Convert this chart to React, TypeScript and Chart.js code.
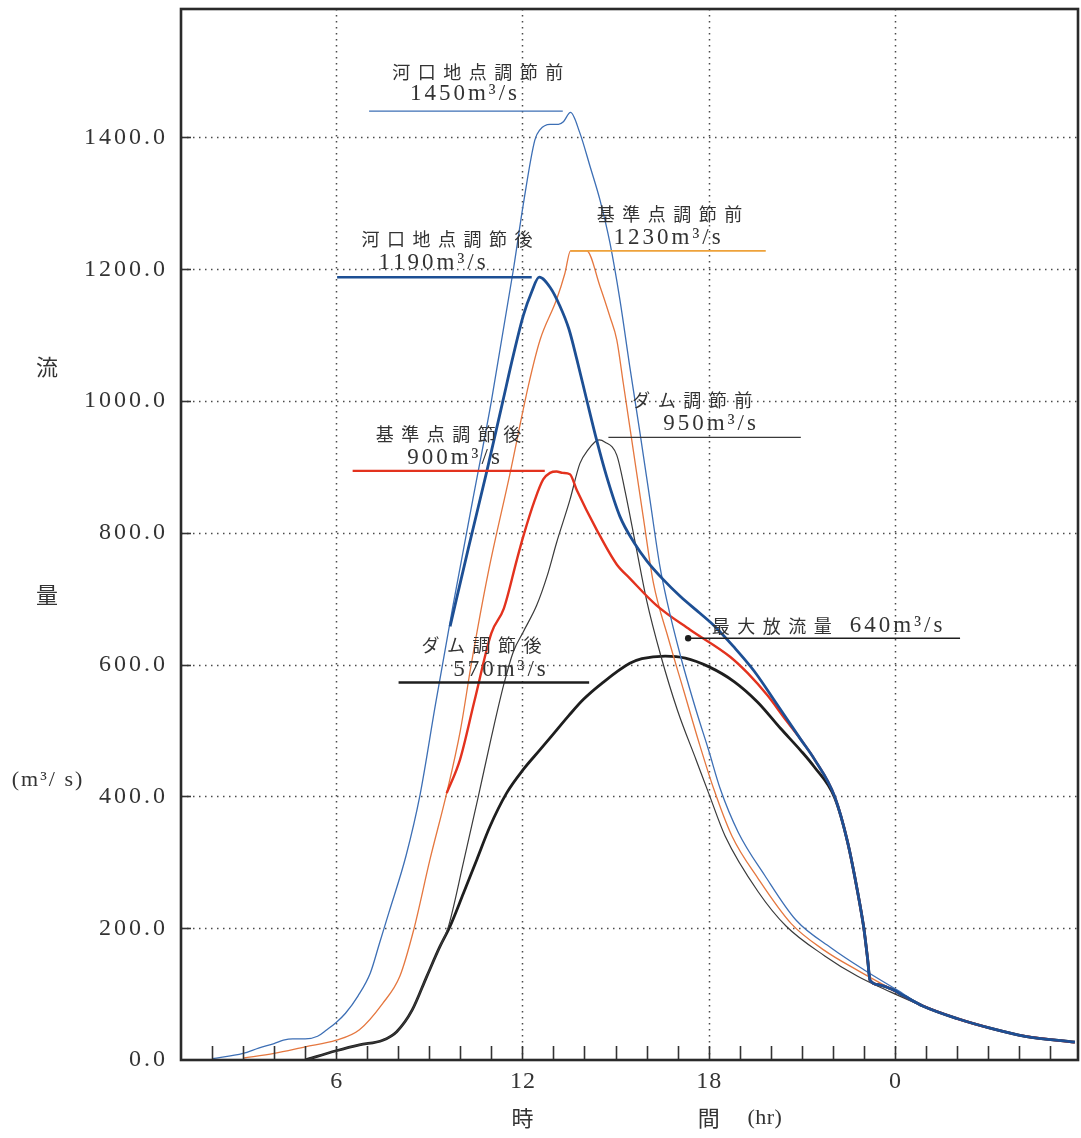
import React, { useEffect, useRef } from "react";
import { Chart, registerables } from "chart.js";

Chart.register(...registerables);

// ---------- axes ----------
const hourMin = 1;
const hourMax = 29.9;
const flowMin = 0;
const flowMax = 1595;
const flowTicks = [0, 200, 400, 600, 800, 1000, 1200, 1400];
const flowTickLabels = ["0.0", "200.0", "400.0", "600.0", "800.0", "1000.0", "1200.0", "1400.0"];
const hourMinorTicks = [2, 3, 4, 5, 6, 7, 8, 9, 10, 11, 12, 13, 14, 15, 16, 17, 18, 19, 20, 21, 22, 23, 24, 25, 26, 27, 28, 29];
const hourMajorTicks = [6, 12, 18, 24];
const hourMajorLabels = ["6", "12", "18", "0"];

// ---------- shared recession tail ----------
const tailHours = [24.9, 26.0, 27.1, 28.2, 29.8];
const tailFlow = [82, 63, 48, 36, 27];

// ---------- 河口地点調節前 ----------
const estuaryBeforeHours = [2.0, 3.0, 3.5, 4.0, 4.3, 4.6, 5.0, 5.4, 5.7, 6.0, 6.3, 6.7, 7.1, 7.4, 7.7, 8.25, 8.7, 9.2, 9.75, 10.4, 11.0, 11.7, 12.05, 12.4, 12.57, 12.89, 13.16, 13.32, 13.55, 13.85, 14.18, 14.5, 14.82, 15.14, 15.46, 15.79, 16.11, 16.43, 16.65, 17.1, 17.6, 18.0, 18.37, 18.96, 19.81, 20.82, 21.95, 23.0, 24.08];
const estuaryBeforeFlow = [2, 10, 18, 25, 30, 32, 32, 36, 46, 57, 71, 97, 132, 178, 224, 310, 402, 540, 686, 850, 1000, 1197, 1305, 1396, 1412, 1420, 1420, 1424, 1438, 1407, 1356, 1305, 1240, 1154, 1052, 951, 850, 749, 698, 612, 530, 470, 412, 345, 280, 212, 170, 137, 106];

// ---------- 河口地点調節後 ----------
const estuaryAfterHours = [9.67, 10.25, 10.85, 11.37, 11.71, 12.03, 12.3, 12.54, 12.9, 13.2, 13.5, 13.75, 14.07, 14.39, 14.71, 15.14, 15.6, 16.0, 16.54, 17.1, 17.72, 18.2, 18.79, 19.47, 20.2, 20.96, 21.4, 22.06, 22.48, 22.8, 23.0, 23.12, 23.2, 23.5, 23.87, 24.3];
const estuaryAfterFlow = [658, 775, 893, 1000, 1070, 1130, 1166, 1188, 1172, 1145, 1109, 1064, 1002, 941, 886, 825, 785, 758, 729, 703, 678, 658, 628, 590, 540, 487, 457, 400, 330, 255, 200, 154, 121, 114, 108, 97];

// ---------- 基準点調節前 ----------
const baseBeforeHours = [3.0, 4.0, 5.0, 6.0, 6.75, 7.5, 8.05, 8.5, 9.02, 9.56, 10.0, 10.35, 10.9, 11.6, 12.2, 12.57, 13.1, 13.37, 13.55, 14.07, 14.5, 14.82, 15.04, 15.25, 15.57, 15.89, 16.22, 16.7, 17.2, 17.7, 18.16, 18.75, 19.6, 20.66, 21.74, 22.8, 23.87];
const baseBeforeFlow = [3, 10, 20, 30, 46, 86, 127, 198, 304, 405, 500, 600, 740, 890, 1025, 1093, 1154, 1194, 1228, 1228, 1174, 1128, 1093, 1027, 926, 825, 724, 640, 560, 480, 412, 340, 275, 207, 166, 136, 108];

// ---------- 基準点調節後 ----------
const baseAfterHours = [9.56, 9.99, 10.45, 11.0, 11.4, 11.82, 12.03, 12.4, 12.67, 12.89, 13.1, 13.3, 13.53, 13.75, 14.39, 15.04, 15.46, 16.32, 17.4, 18.69, 19.26, 19.9, 20.5, 20.96, 21.4, 22.06, 22.48, 22.8, 23.0, 23.12, 23.2, 23.5, 23.87, 24.3];
const baseAfterFlow = [405, 456, 544, 648, 685, 759, 795, 850, 881, 891, 893, 891, 889, 865, 805, 752, 731, 690, 653, 612, 587, 553, 515, 487, 457, 400, 330, 255, 200, 154, 121, 114, 108, 97];

// ---------- ダム調節前 ----------
const damBeforeHours = [5.0, 6.0, 6.75, 7.5, 7.95, 8.45, 8.92, 9.34, 9.6, 10.1, 10.58, 11.0, 11.4, 11.71, 12.03, 12.46, 12.8, 13.1, 13.53, 13.85, 14.1, 14.47, 14.65, 15.04, 15.3, 15.68, 16.0, 16.45, 17.0, 17.6, 18.0, 18.53, 19.6, 20.5, 21.74, 22.8, 23.87];
const damBeforeFlow = [0, 14, 23, 30, 43, 76, 127, 172, 200, 300, 400, 490, 570, 620, 650, 690, 735, 785, 850, 905, 925, 941, 938, 918, 865, 774, 698, 615, 530, 455, 405, 340, 255, 203, 158, 127, 103];

// ---------- ダム調節後 ----------
const damAfterHours = [5.0, 6.0, 6.75, 7.5, 7.95, 8.45, 8.92, 9.34, 9.67, 10.1, 10.53, 10.95, 11.49, 12.03, 12.57, 13.0, 13.5, 13.96, 14.57, 15.46, 15.85, 16.6, 17.25, 18.0, 18.83, 19.58, 20.32, 20.96, 21.4, 22.06, 22.48, 22.8, 23.0, 23.12, 23.2, 23.5, 23.87, 24.3];
const damAfterFlow = [0, 14, 23, 30, 43, 76, 127, 172, 203, 253, 304, 354, 405, 441, 471, 495, 523, 547, 572, 602, 609, 613, 610, 597, 574, 543, 503, 470, 445, 398, 330, 255, 200, 154, 121, 114, 108, 97];

// ---------- annotations ----------
const annoNames = ["河口地点調節前", "河口地点調節後", "基準点調節前", "基準点調節後", "ダム調節前", "ダム調節後"];
const annoValueLabels = ["1450m³/s", "1190m³/s", "1230m³/s", "900m³/s", "950m³/s", "570m³/s"];
const annoNameHour = [10.56, 9.57, 16.74, 9.62, 17.47, 10.68];
const annoNameFlow = [1499, 1246, 1283, 950, 1001, 630];
const annoValueHour = [10.1, 9.09, 16.66, 9.78, 18.03, 11.26];
const annoValueFlow = [1466, 1209, 1248, 913, 965, 592];
const leaderFlow = [1440, 1188, 1228, 894, 945, 573];
const leaderStartHour = [7.06, 6.03, 13.55, 6.53, 14.77, 8.01];
const leaderEndHour = [13.3, 12.3, 19.84, 12.72, 20.97, 14.15];
const leaderColors = ["#3d6fb5", "#1d4f94", "#eea23a", "#e3321e", "#3a3a3a", "#1e1e1e"];
const leaderWidths = [1.3, 2.6, 1.6, 2.4, 1.3, 2.6];

const maxReleaseName = "最大放流量";
const maxReleaseLabel = "640m³/s";
const maxReleaseFlow = 640;
const maxReleaseDotHour = 17.34;
const maxReleaseEndHour = 26.1;
const maxReleaseNameHour = 20.03;
const maxReleaseLabelHour = 24.04;
const maxReleaseTextFlow = 659;

const NUM_FONT = '"Liberation Serif", "DejaVu Serif", serif';
const JP_FONT = '"Noto Sans CJK JP", "Noto Sans", sans-serif';
const TEXT_COLOR = "#333";

function drawSpaced(ctx: CanvasRenderingContext2D, text: string, x: number, y: number, spacing: number, align: string) {
  const chars = Array.from(text);
  const widths = chars.map((c) => ctx.measureText(c).width);
  const total = widths.reduce((s, w) => s + w, 0) + spacing * (chars.length - 1);
  let cx = align === "center" ? x - total / 2 : align === "right" ? x - total : x;
  ctx.textAlign = "left";
  chars.forEach((c, i) => {
    ctx.fillText(c, cx, y);
    cx += widths[i] + spacing;
  });
}

const decorPlugin = {
  id: "decor",
  beforeDatasetsDraw(chart: any) {
    const { ctx, chartArea: a, scales } = chart;
    const xs = scales.x;
    const ys = scales.y;
    ctx.save();
    ctx.strokeStyle = "#4a4a4a";
    ctx.lineWidth = 1.5;
    ctx.setLineDash([1.5, 4.5]);
    flowTicks.forEach((v) => {
      if (v === 0) return;
      const py = Math.round(ys.getPixelForValue(v)) + 0.5;
      ctx.beginPath();
      ctx.moveTo(a.left, py);
      ctx.lineTo(a.right, py);
      ctx.stroke();
    });
    hourMajorTicks.forEach((v) => {
      const px = Math.round(xs.getPixelForValue(v)) + 0.5;
      ctx.beginPath();
      ctx.moveTo(px, a.top);
      ctx.lineTo(px, a.bottom);
      ctx.stroke();
    });
    ctx.restore();
  },
  afterDatasetsDraw(chart: any) {
    const { ctx, chartArea: a, scales } = chart;
    const xs = scales.x;
    const ys = scales.y;
    ctx.save();
    ctx.setLineDash([]);

    // tick marks (inside the frame)
    ctx.strokeStyle = "#333";
    ctx.lineWidth = 1.6;
    hourMinorTicks.forEach((v) => {
      const px = Math.round(xs.getPixelForValue(v)) + 0.5;
      ctx.beginPath();
      ctx.moveTo(px, a.bottom);
      ctx.lineTo(px, a.bottom - 14);
      ctx.stroke();
    });
    flowTicks.forEach((v) => {
      if (v === 0) return;
      const py = Math.round(ys.getPixelForValue(v)) + 0.5;
      ctx.beginPath();
      ctx.moveTo(a.left, py);
      ctx.lineTo(a.left + 10, py);
      ctx.stroke();
    });

    // frame
    ctx.strokeStyle = "#2a2a2a";
    ctx.lineWidth = 2.6;
    ctx.strokeRect(a.left, a.top, a.right - a.left, a.bottom - a.top);

    // tick labels
    ctx.fillStyle = TEXT_COLOR;
    ctx.textBaseline = "middle";
    ctx.font = `24px ${NUM_FONT}`;
    flowTicks.forEach((v, i) => {
      drawSpaced(ctx, flowTickLabels[i], a.left - 16, ys.getPixelForValue(v), 3, "right");
    });
    hourMajorTicks.forEach((v, i) => {
      drawSpaced(ctx, hourMajorLabels[i], xs.getPixelForValue(v), a.bottom + 22, 1, "center");
    });

    // axis titles
    ctx.font = `22px ${JP_FONT}`;
    ctx.fillText("流", 36, 367);
    ctx.fillText("量", 36, 595);
    ctx.textAlign = "center";
    ctx.fillText("時", xs.getPixelForValue(12), a.bottom + 58);
    ctx.fillText("間", xs.getPixelForValue(18), a.bottom + 58);
    ctx.font = `22px ${NUM_FONT}`;
    drawSpaced(ctx, "(hr)", xs.getPixelForValue(18) + 56, a.bottom + 58, 0.5, "center");
    drawSpaced(ctx, "(m³/ s)", 47, 780, 2, "center");

    // leader lines
    annoNames.forEach((_, i) => {
      const py = ys.getPixelForValue(leaderFlow[i]);
      ctx.strokeStyle = leaderColors[i];
      ctx.lineWidth = leaderWidths[i];
      ctx.beginPath();
      ctx.moveTo(xs.getPixelForValue(leaderStartHour[i]), py);
      ctx.lineTo(xs.getPixelForValue(leaderEndHour[i]), py);
      ctx.stroke();
    });
    {
      const py = ys.getPixelForValue(maxReleaseFlow);
      const px0 = xs.getPixelForValue(maxReleaseDotHour);
      ctx.strokeStyle = "#1e1e1e";
      ctx.lineWidth = 1.4;
      ctx.beginPath();
      ctx.moveTo(px0, py);
      ctx.lineTo(xs.getPixelForValue(maxReleaseEndHour), py);
      ctx.stroke();
      ctx.fillStyle = "#1e1e1e";
      ctx.beginPath();
      ctx.arc(px0, py, 3.2, 0, Math.PI * 2);
      ctx.fill();
    }

    // annotation texts
    ctx.fillStyle = TEXT_COLOR;
    ctx.textBaseline = "middle";
    annoNames.forEach((name, i) => {
      ctx.font = `18px ${JP_FONT}`;
      drawSpaced(ctx, name, xs.getPixelForValue(annoNameHour[i]), ys.getPixelForValue(annoNameFlow[i]), 7.5, "center");
      ctx.font = `23px ${NUM_FONT}`;
      drawSpaced(ctx, annoValueLabels[i], xs.getPixelForValue(annoValueHour[i]), ys.getPixelForValue(annoValueFlow[i]), 3, "center");
    });
    ctx.font = `18px ${JP_FONT}`;
    drawSpaced(ctx, maxReleaseName, xs.getPixelForValue(maxReleaseNameHour), ys.getPixelForValue(maxReleaseTextFlow), 7.5, "center");
    ctx.font = `23px ${NUM_FONT}`;
    drawSpaced(ctx, maxReleaseLabel, xs.getPixelForValue(maxReleaseLabelHour), ys.getPixelForValue(maxReleaseTextFlow), 3, "center");

    ctx.restore();
  },
};

function series(hours: number[], flow: number[]) {
  const pts = hours.map((h, i) => ({ x: h, y: flow[i] }));
  tailHours.forEach((h, i) => pts.push({ x: h, y: tailFlow[i] }));
  return pts;
}

export default function App() {
  const canvasRef = useRef<HTMLCanvasElement | null>(null);

  useEffect(() => {
    document.body.style.margin = "0";
    document.body.style.background = "#ffffff";
    const canvas = canvasRef.current;
    if (!canvas) return;
    const chart = new Chart(canvas, {
      type: "line",
      data: {
        datasets: [
          { label: "河口地点調節後", data: series(estuaryAfterHours, estuaryAfterFlow), borderColor: "#1d4f94", borderWidth: 2.8 },
          { label: "河口地点調節前", data: series(estuaryBeforeHours, estuaryBeforeFlow), borderColor: "#3d6fb5", borderWidth: 1.3 },
          { label: "基準点調節後", data: series(baseAfterHours, baseAfterFlow), borderColor: "#e3321e", borderWidth: 2.4 },
          { label: "基準点調節前", data: series(baseBeforeHours, baseBeforeFlow), borderColor: "#e5773f", borderWidth: 1.3 },
          { label: "ダム調節前", data: series(damBeforeHours, damBeforeFlow), borderColor: "#3a3a3a", borderWidth: 1.2 },
          { label: "ダム調節後", data: series(damAfterHours, damAfterFlow), borderColor: "#1e1e1e", borderWidth: 2.8 },
        ].map((d) => ({ ...d, pointRadius: 0, fill: false, cubicInterpolationMode: "monotone" as const })),
      },
      options: {
        animation: false,
        responsive: false,
        maintainAspectRatio: false,
        layout: { padding: { left: 181, right: 3, top: 9, bottom: 78 } },
        plugins: { legend: { display: false }, tooltip: { enabled: false } },
        scales: {
          x: { type: "linear", min: hourMin, max: hourMax, display: false },
          y: { type: "linear", min: flowMin, max: flowMax, display: false },
        },
      },
      plugins: [decorPlugin],
    });
    return () => chart.destroy();
  }, []);

  return (
    <div style={{ width: 1081, height: 1138, background: "#fff" }}>
      <canvas ref={canvasRef} width={1081} height={1138} style={{ display: "block", width: 1081, height: 1138 }} />
    </div>
  );
}
